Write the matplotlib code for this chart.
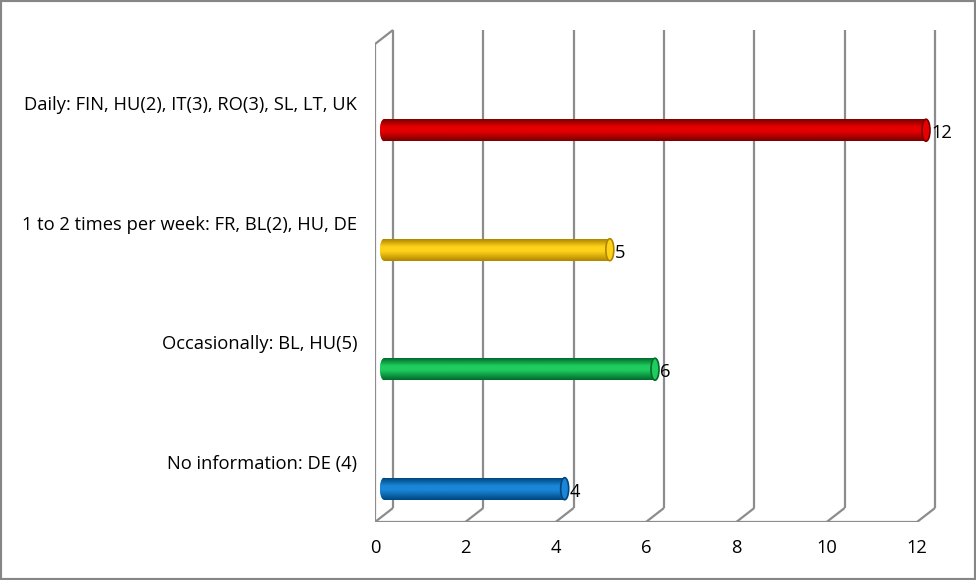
import numpy as np
import matplotlib.pyplot as plt
from matplotlib.patches import Ellipse, Rectangle
from matplotlib.colors import LinearSegmentedColormap

categories = ['No information: DE (4)',
              'Occasionally: BL, HU(5)',
              '1 to 2 times per week: FR, BL(2), HU, DE',
              'Daily: FIN, HU(2), IT(3), RO(3), SL, LT, UK']
values = [4, 6, 5, 12]
# (dark edge, light middle) per bar
bar_colors = [('#00467E', '#1A86D8'),
              ('#006B2C', '#1FCC5E'),
              ('#B08600', '#FFD21A'),
              ('#7A0000', '#E60000')]
x_ticks = [0, 2, 4, 6, 8, 10, 12]

plt.rcParams['font.family'] = ['Open Sans', 'DejaVu Sans']
FS = 13.2

W, H = 976, 580
# front plane: x 0..12 -> px 375..917, floor at px 522, top at px 44
px_x = 12 / (917 - 375)
y0, y_top = -0.22, 3.78
px_y = (y_top - y0) / (522 - 44)
right_px, top_px = 965, 20

fig = plt.figure(figsize=(W / 100, H / 100), dpi=100)
ax = fig.add_axes([375 / W, (H - 522) / H, (right_px - 375) / W, (522 - top_px) / H])
xmax = (right_px - 375) * px_x
ymax = y0 + (522 - top_px) * px_y

# depth offset of the back wall, in data units
ddx, ddy = 18 * px_x, 14 * px_y

grid_kw = dict(color='#8C8C8C', lw=1.6, zorder=1, solid_capstyle='butt')
for x in x_ticks:
    ax.plot([x + ddx, x + ddx], [y0 + ddy, y_top + ddy], **grid_kw)
    ax.plot([x, x + ddx], [y0, y0 + ddy], **grid_kw)
ax.plot([0, 0], [y0, y_top], **grid_kw)
ax.plot([0, ddx], [y_top, y_top + ddy], **grid_kw)
ax.plot([0, 12], [y0, y0], **grid_kw)

bh = 22 * px_y
capw = 8 * px_x
grad = np.linspace(0, 1, 64).reshape(-1, 1)
for i, (cat, v, (dark, light)) in enumerate(zip(categories, values, bar_colors)):
    yc = i + ddy / 2
    left = ddx / 2
    cmap = LinearSegmentedColormap.from_list(
        'cyl', [(0, dark), (0.45, light), (0.65, light), (1, dark)])
    body = ax.barh(yc, v, height=bh, left=left, color=light, lw=0, zorder=3)[0]
    im = ax.imshow(grad, cmap=cmap, aspect='auto', origin='lower', zorder=3,
                   extent=(left - capw, left + v, yc - bh / 2, yc + bh / 2))
    im.set_clip_path(body)
    lcap = Ellipse((left, yc), capw, bh, color=light, lw=0, zorder=2.9)
    ax.add_patch(lcap)
    im2 = ax.imshow(grad, cmap=cmap, aspect='auto', origin='lower', zorder=3,
                    extent=(left - capw, left + capw, yc - bh / 2, yc + bh / 2))
    im2.set_clip_path(lcap)
    ax.add_patch(Ellipse((left + v, yc), capw, bh, facecolor=light,
                         edgecolor=dark, lw=1.2, zorder=4))
    ax.text(left + v + capw / 2 + 1 * px_x, yc - 3 * px_y, str(v),
            ha='left', va='center', fontsize=FS, zorder=5)
    ax.annotate(cat, xy=(0, yc), xytext=(-18, 25), textcoords='offset pixels',
                ha='right', va='center', fontsize=FS, annotation_clip=False)

ax.set_xlim(0, xmax)
ax.set_ylim(y0, ymax)
ax.set_xticks(x_ticks)
ax.set_yticks([])
ax.tick_params(axis='x', length=0, pad=12, labelsize=FS)
for s in ax.spines.values():
    s.set_visible(False)
ax.patch.set_visible(False)

fig.patches.append(Rectangle((0, 0), 1, 1, transform=fig.transFigure,
                             fill=False, edgecolor='#868686', lw=3))

fig.savefig('out.png', dpi=100)
